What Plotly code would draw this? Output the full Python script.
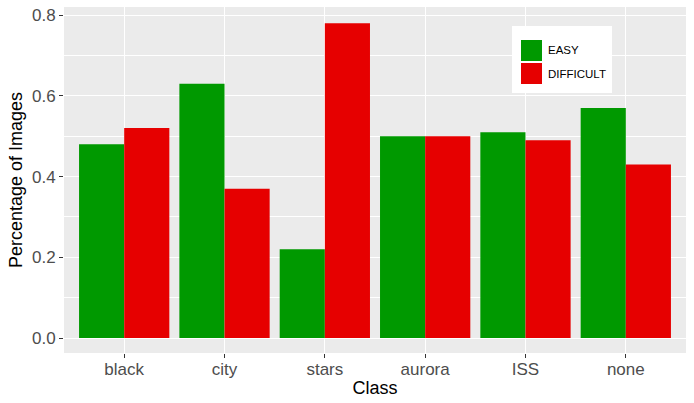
import plotly.graph_objects as go

classes = ["black", "city", "stars", "aurora", "ISS", "none"]
easy = [0.48, 0.63, 0.22, 0.50, 0.51, 0.57]
difficult = [0.52, 0.37, 0.78, 0.50, 0.49, 0.43]
series_names = ["EASY", "DIFFICULT"]
colors = ["#009900", "#E60000"]
y_ticks = [0.0, 0.2, 0.4, 0.6, 0.8]

W, H = 694, 403
ML, MR, MT, MB = 64, 8, 7, 50
PW, PH = W - ML - MR, H - MT - MB


def px(x):
    return (x - ML) / PW


def py(y):
    return (H - MB - y) / PH


fig = go.Figure()
for name, vals, col in zip(series_names, [easy, difficult], colors):
    fig.add_trace(go.Bar(x=classes, y=vals, name=name, marker_color=col,
                         marker_line_width=0, showlegend=False))

# manual legend (ggplot style)
shapes = [dict(type="rect", xref="paper", yref="paper", x0=px(512), x1=px(612),
               y0=py(93), y1=py(26), fillcolor="white", line_width=0, layer="above")]
annotations = []
for i, (name, col) in enumerate(zip(series_names, colors)):
    top = 40 + i * 23
    shapes.append(dict(type="rect", xref="paper", yref="paper", x0=px(521), x1=px(542),
                       y0=py(top + 21), y1=py(top), fillcolor=col, line_width=0, layer="above"))
    annotations.append(dict(text=name, xref="paper", yref="paper", x=px(546), y=py(top + 10.5),
                            xanchor="left", yanchor="middle", showarrow=False,
                            font=dict(size=11.5, color="black")))

fig.update_layout(
    width=W, height=H,
    margin=dict(l=ML, r=MR, t=MT, b=MB),
    paper_bgcolor="white", plot_bgcolor="#EBEBEB",
    barmode="group", bargap=0.1, bargroupgap=0,
    font=dict(family="Liberation Sans, Arial, sans-serif", color="black"),
    showlegend=False,
    shapes=shapes, annotations=annotations,
    xaxis=dict(range=[-0.6, 5.6], showgrid=True, gridcolor="white", gridwidth=1.1,
               ticks="outside", ticklen=4, tickcolor="#333333", automargin=False,
               tickfont=dict(size=17, color="#4D4D4D"), ticklabelstandoff=-3,
               title=dict(text="Class", font=dict(size=18, color="black"), standoff=2),
               zeroline=False),
    yaxis=dict(range=[-0.037, 0.82], tickvals=y_ticks,
               ticktext=[f"{v:.1f}" for v in y_ticks],
               showgrid=True, gridcolor="white", gridwidth=1.1, automargin=False,
               minor=dict(dtick=0.1, tick0=0.1, showgrid=True, gridcolor="white", gridwidth=0.5, ticks=""),
               ticks="outside", ticklen=4, tickcolor="#333333",
               tickfont=dict(size=17, color="#4D4D4D"),
               title=dict(text="Percentage of Images", font=dict(size=18, color="black"), standoff=4),
               zeroline=False),
)
fig.write_html("out.html", config={"displayModeBar": False},
               post_script="document.body.style.margin='0';")
